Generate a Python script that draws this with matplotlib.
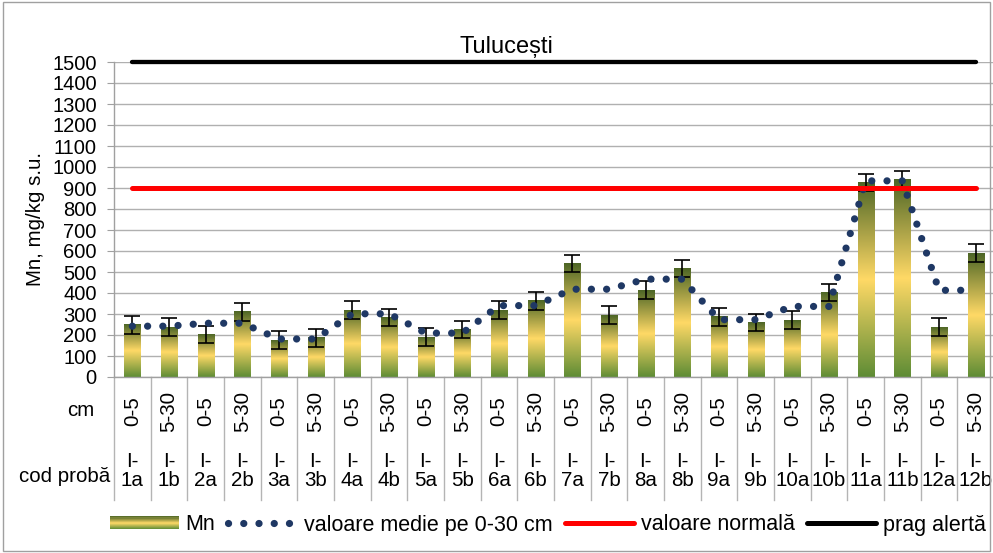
import numpy as np
import matplotlib
matplotlib.use('Agg')
import matplotlib.pyplot as plt
from matplotlib.colors import LinearSegmentedColormap
from matplotlib.legend_handler import HandlerBase
from matplotlib.patches import Rectangle
from matplotlib.lines import Line2D
import matplotlib.transforms as mtransforms

plt.rcParams['font.family'] = ['Liberation Sans', 'DejaVu Sans']

# ---------------- data ----------------
codes = ['1a', '1b', '2a', '2b', '3a', '3b', '4a', '4b', '5a', '5b', '6a', '6b',
         '7a', '7b', '8a', '8b', '9a', '9b', '10a', '10b', '11a', '11b', '12a', '12b']
depths = ['0-5', '5-30'] * 12
mn = [248, 237, 203, 310, 176, 186, 319, 284, 190, 227, 319, 362,
      541, 295, 414, 517, 286, 260, 270, 403, 927, 941, 237, 589]
mn_err = [42] * 24
mean_0_30 = [242, 242, 256, 256, 181, 181, 301, 301, 209, 209, 340, 340,
             418, 418, 466, 466, 273, 273, 336, 336, 934, 934, 413, 413]
normal_value = 900
alert_value = 1500
yticks = list(range(0, 1600, 100))

# ---------------- style ----------------
W, H = 993, 553
FS = 14.8
fig = plt.figure(figsize=(W / 100, H / 100), dpi=100)
fig.patch.set_facecolor('white')
fig.add_artist(Rectangle((0.003, 0.004), 0.994, 0.992, transform=fig.transFigure,
                         fill=False, edgecolor='#A0A0A0', lw=1))

left_px, right_px, top_px, bottom_px = 114, 994, 62, 377
ax = fig.add_axes([left_px / W, 1 - bottom_px / H, (right_px - left_px) / W,
                   (bottom_px - top_px) / H])

cmap = LinearSegmentedColormap.from_list(
    'mn', [(0.0, '#5E8C35'), (0.5, '#FFD966'), (1.0, '#4D6626')])

x = np.arange(len(codes))
bw = 0.44
grad = np.linspace(0, 1, 256).reshape(-1, 1)
for xi, v in zip(x, mn):
    ax.imshow(grad, extent=[xi - bw / 2, xi + bw / 2, 0, v], origin='lower',
              aspect='auto', cmap=cmap, zorder=2, interpolation='bilinear')

ax.errorbar(x, mn, yerr=mn_err, fmt='none', ecolor='black', elinewidth=1.2,
            capsize=5.5, capthick=1.2, zorder=3)

ax.plot(x, mean_0_30, color='#1F3864', lw=5.2, ls=(0, (0.01, 2.1)),
        dash_capstyle='round', zorder=4)
ax.plot([x[0], x[-1]], [normal_value] * 2, color='#FF0000', lw=3.6,
        solid_capstyle='round', zorder=4)
ax.plot([x[0], x[-1]], [alert_value] * 2, color='black', lw=3.1,
        solid_capstyle='round', zorder=4, clip_on=False)

ax.set_xlim(-0.5, len(codes) - 0.5)
ax.set_ylim(0, 1500)
ax.set_yticks(yticks)
ax.set_yticklabels([str(t) for t in yticks], fontsize=14.5)
ax.tick_params(axis='y', length=5, color='#A0A0A0', pad=7.5, direction='out')
ax.set_xticks([])
ax.grid(axis='y', color='#B0B0B0', lw=1)
ax.set_axisbelow(True)
for s in ['top', 'right']:
    ax.spines[s].set_visible(False)
for s in ['left', 'bottom']:
    ax.spines[s].set_color('#A0A0A0')
    ax.spines[s].set_linewidth(1)

ax.set_ylabel('Mn, mg/kg s.u.', fontsize=FS)
ax.yaxis.set_label_coords(-(114 - 45) / 880, 0.5)

fig.text(506 / W, 1 - 47 / H, 'Tulucești', ha='center', va='center', fontsize=17)

# category table
btrans = mtransforms.blended_transform_factory(ax.transData, fig.transFigure)
for b in np.arange(-0.5, len(codes), 1.0):
    ax.add_line(Line2D([b, b], [1 - bottom_px / H, 1 - 500 / H], transform=btrans,
                       color='#B4B4B4', lw=1, clip_on=False))
for xi, d, c in zip(x, depths, codes):
    ax.text(xi, 1 - 411 / H, d, transform=btrans, rotation=90, ha='center',
            va='center', fontsize=FS, clip_on=False)
    ax.text(xi, 1 - 471 / H, 'I-\n' + c, transform=btrans, ha='center',
            va='center', fontsize=FS, linespacing=1.0, clip_on=False)
fig.text(94 / W, 1 - 411 / H, 'cm', ha='right', va='center', fontsize=FS)
fig.text(110 / W, 1 - 476 / H, 'cod probă', ha='right', va='center', fontsize=FS)


# legend
class GradientHandler(HandlerBase):
    def create_artists(self, legend, orig_handle, xdescent, ydescent, width,
                       height, fontsize, trans):
        n = 12
        arts = []
        for i in range(n):
            r = Rectangle((-xdescent, -ydescent + i * height / n), width,
                          height / n + 0.3, facecolor=cmap((i + 0.5) / n),
                          edgecolor='none', transform=trans)
            arts.append(r)
        return arts


bar_proxy = Rectangle((0, 0), 1, 1)
h_mean = Line2D([], [], color='#1F3864', lw=5.2, ls=(0, (0.01, 2.1)),
                dash_capstyle='round')
h_norm = Line2D([], [], color='#FF0000', lw=3.6, solid_capstyle='round')
h_alert = Line2D([], [], color='black', lw=3.6, solid_capstyle='round')
leg = fig.legend([bar_proxy, h_mean, h_norm, h_alert],
                 ['Mn', 'valoare medie pe 0-30 cm', 'valoare normală', 'prag alertă'],
                 handler_map={Rectangle: GradientHandler()},
                 loc='center', bbox_to_anchor=(548 / W, 1 - 525 / H), ncol=4,
                 frameon=False, fontsize=15.5, handlelength=3.2, handleheight=0.55,
                 handletextpad=0.3, columnspacing=0.6, borderaxespad=0,
                 borderpad=0)

fig.savefig('out.png', dpi=100)
